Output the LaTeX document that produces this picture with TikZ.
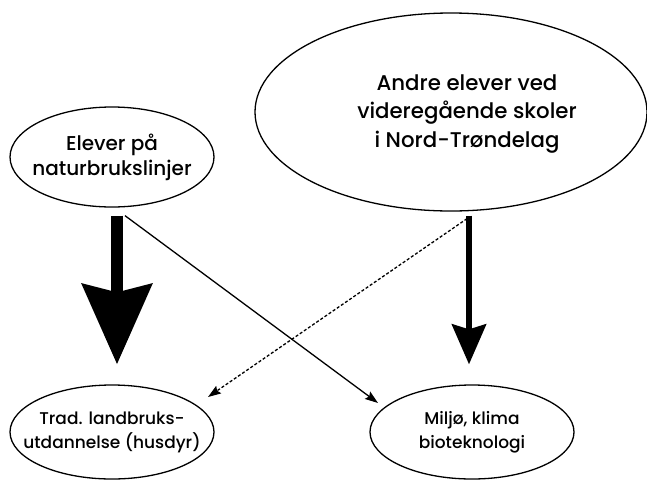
\documentclass[tikz,border=0pt]{standalone}
\usepackage{fontspec}
\setmainfont{Poppins Medium}
\usepackage{tikz}
\usetikzlibrary{arrows.meta,positioning,shapes.geometric}
\tikzstyle{grp}=[draw,ellipse,line width=1.3pt,inner sep=-60pt,align=center]
\tikzstyle{fat}=[line width=12pt,-{Stealth[length=80pt,width=69pt,inset=8pt]}]
\tikzstyle{fatr}=[line width=6pt,-{Stealth[length=40pt,width=34pt,inset=5pt]}]
\tikzstyle{thin}=[line width=1.3pt,-{Stealth[length=13pt,width=9pt,inset=2pt]}]

\begin{document}
\begin{tikzpicture}[x=1pt,y=-1pt]
		\useasboundingbox (0,0) rectangle (647,480);
		% grupper
		\node[grp,minimum width=204pt,minimum height=100pt,font=\fontsize{20}{25}\selectfont] (natur) at (112,157) {Elever på\\naturbrukslinjer};
		\node[grp,minimum width=392pt,minimum height=198pt] (andre) at (451,112) {};
		\node[align=center,font=\fontsize{21.3}{28.5}\selectfont] (andretxt) at ([xshift=16pt,yshift=-2pt]andre.center) {Andre elever ved\\videregående skoler\\i Nord-Trøndelag};
		\node[grp,minimum width=204pt,minimum height=94pt,font=\fontsize{17}{24}\selectfont] (trad) at (112,432) {Trad. landbruks-\\utdannelse (husdyr)};
		\node[grp,minimum width=204pt,minimum height=94pt,font=\fontsize{17}{24}\selectfont] (miljo) at (472,432) {Miljø, klima\\bioteknologi};
		
		\coordinate (s1) at ([xshift=5pt,yshift=-8pt]natur.south);
		\coordinate (s2) at ([xshift=13pt,yshift=-8pt]natur.south);
		\coordinate (s3) at ([xshift=18pt,yshift=-4pt]andre.south);
		\coordinate (s4) at ([xshift=16pt,yshift=-7pt]andre.south);
		
		\draw[fat] (s1) -- ([xshift=5pt,yshift=20pt]trad.north);
		\draw[fatr] (s3) -- ([xshift=-3pt,yshift=20pt]miljo.north);
		\draw[thin] (s2) -- ([xshift=-94pt,yshift=29pt]miljo.center);
		\draw[thin,dash pattern=on 3pt off 2pt] (s4) -- ([xshift=96pt,yshift=35pt]trad.center);
		\end{tikzpicture}
\end{document}
